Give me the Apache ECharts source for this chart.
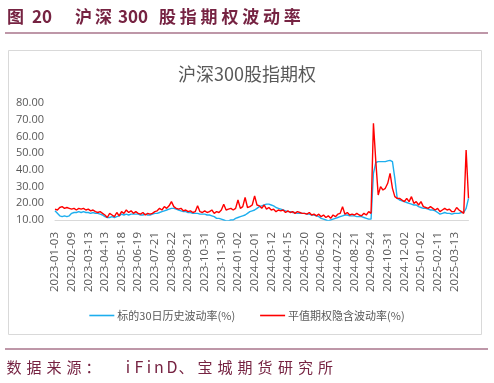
<!DOCTYPE html>
<html><head><meta charset="utf-8">
<script src="https://cdn.jsdelivr.net/npm/echarts@6/dist/echarts.min.js"></script>
<style>html,body{margin:0;padding:0;background:#fff}#c{width:494px;height:383px}</style>
</head><body><div id="c"></div>
<script>
const labelDates = ['2023-01-03','2023-02-09','2023-03-13','2023-04-13','2023-05-18','2023-06-19','2023-07-21','2023-08-22','2023-09-21','2023-10-31','2023-11-30','2024-01-02','2024-02-01','2024-03-12','2024-04-15','2024-05-20','2024-06-20','2024-07-22','2024-08-21','2024-09-24','2024-10-31','2024-12-02','2025-01-02','2025-02-11','2025-03-13'];
const stepsPerLabel = 7;
const trailingPoints = 6;
const histVol = [
15.5,14,12.5,12,12.5,12,12.5,
14,14.5,14.5,15,14.5,15,14.5,
14.5,14,14.5,14,14,13.5,13,
12,11.5,11.5,12,11.5,12,12.5,
13.5,13,13.5,13,13.5,13.5,13.5,
13.5,13,13,13.5,13,13,13.5,
14,14,14.5,15,15.5,16,16.5,
17,17,16.5,16,15.5,15,15,
14.5,14.5,14,14,14,13.5,13.5,
13.5,13,13,12.5,12,11,11,
10.5,10,9.5,9.5,10,10,11,
11.5,12,12.5,13,14,15,15.5,
16,17,18,18.5,19,19.5,19.5,
19,18.5,17.5,17,16.5,16,15.5,
15,15,14.5,14.5,14,14,14,
14,13.5,13.5,13,13,12.5,12,
11,10.5,10,9.5,10,10.5,11,
11.5,12,12.5,13,13,12.5,12.5,
12.5,12,12,12,11.5,11,10.5,
10.5,38,44.5,45,45,45,45,
45.5,45.8,45,35,23,22,21.5,
21,20.5,20,19.5,19,19,18,
17.5,17,17,16.5,16,16,15.5,
14.5,13.5,14,14.5,14,14,13.5,
14,14,14,14.5,14.5,17,23
];
const impliedVol = [
16.5,16,17.5,18,17,17.5,17,
16.5,17,16,17,16.5,17,16,
16.5,15.5,16,15,14.5,15,14,
13,11.5,14,13,12,14.5,12.5,
15,14,16,14.5,15.5,14,15,
14,13.5,14.5,13,14,13.5,14,
15,15.5,17,16,18,17,18.5,
21,18,17,16.5,17,15.5,16,
15,15.5,14.5,15,18.5,15,14.5,
15.5,14.5,15,16,14,15,14.5,
16,19.5,16,16.5,17,16,17,
22,17,18,23.5,17.5,18,19,
24.5,19,18.5,17,19,16.5,17.5,
16,16.5,15,16,15.5,16,14.5,
15.5,14.5,15,14,15,14.5,14,
14,13.5,14.5,13,13.5,12.5,13.5,
12,13,11.5,12.5,11,13,12,
13.5,14,18,13.5,14.5,13,13.5,
13,14,13,12.5,14,13,15,
14,68,45,25,30,28,29,
32,38,29,24,23,23,22,
21,23,21,24,20,21,19,
21,18,17.5,17,18,17,16,
17,15,16,17,16,16.5,15,
15,17.5,16,15,14,52,23
];
const yTicks = [10,20,30,40,50,60,70,80];
const chartTitle = '沪深300股指期权';
const seriesNames = ['标的30日历史波动率(%)','平值期权隐含波动率(%)'];

// categories: label dates with intermediate (unlabelled) sample points
const categories = [];
labelDates.forEach((d, k) => {
  categories.push(d);
  const n = k < labelDates.length - 1 ? stepsPerLabel - 1 : trailingPoints;
  for (let j = 1; j <= n; j++) categories.push(d + '#' + j);
});

const maroon = '#762342';
const lineCol = '#A9748B';
const gfx = [];
gfx.push({type:'rect', shape:{x:8.5,y:50.5,width:473,height:284}, style:{fill:'#fff',stroke:'#D9D9D9',lineWidth:1}, z:-10});
gfx.push({type:'line', shape:{x1:5,y1:33,x2:488,y2:33}, style:{stroke:lineCol,lineWidth:1.5}});
gfx.push({type:'line', shape:{x1:5,y1:349,x2:488,y2:349}, style:{stroke:lineCol,lineWidth:1.5}});
function putChars(chars, xs, y, size, weight){
  chars.forEach((ch, i) => gfx.push({type:'text', x:xs[i], y:y, style:{text:ch, fill:maroon, font: weight+' '+size+'px "Noto Sans CJK SC", sans-serif', textAlign:'center', textVerticalAlign:'middle'}}));
}
const head1 = ['图','20','沪','深','300'];
putChars(head1, [15.5,42,83.5,103.5,133], 17, 17, 'bold');
const head2 = '股指期权波动率'.split('');
putChars(head2, head2.map((c,i)=>167.5+i*20.8), 17, 17, 'bold');
const foot1 = '数据来源：'.split('');
putChars(foot1, [14,34,54,74,93], 367, 15, 'normal');
const foot2 = 'iFinD'.split('');
putChars(foot2, [128,139,149,159,172], 367, 16, 'normal');
const foot3 = '、宝城期货研究所'.split('');
putChars(foot3, [186,205,225,245,265,285.5,305.5,325.5], 367, 15, 'normal');

const chart = echarts.init(document.getElementById('c'), null, {renderer:'canvas'});
chart.setOption({
  animation:false,
  backgroundColor:'#fff',
  graphic:{elements:gfx},
  title:{text:chartTitle, left:'center', top:60, textStyle:{fontSize:18, fontWeight:'normal', color:'#595959', fontFamily:'"Noto Sans CJK SC", sans-serif'}},
  legend:{bottom:57, left:'center', icon:'rect', itemWidth:25, itemHeight:1.6, itemGap:25,
    textStyle:{fontSize:11, color:'#595959', fontFamily:'"Noto Sans CJK SC", sans-serif', padding:[0,0,0,-2]},
    data:seriesNames},
  grid:{left:55, right:25.5, top:103.3, bottom:163, containLabel:false},
  xAxis:{type:'category', data:categories, boundaryGap:false,
    axisLine:{lineStyle:{color:'#D9D9D9', width:1}}, axisTick:{show:false},
    axisLabel:{interval:stepsPerLabel-1, rotate:90, margin:12, fontSize:11.5, color:'#595959', fontFamily:'"Open Sans", sans-serif'},
    splitLine:{show:false}},
  yAxis:{type:'value', min:yTicks[0], max:yTicks[yTicks.length-1], interval:10,
    axisLine:{show:false}, axisTick:{show:false}, splitLine:{show:false},
    axisLabel:{margin:11, fontSize:11, color:'#595959', fontFamily:'"Open Sans", sans-serif', formatter:v=>v.toFixed(2)}},
  series:[
    {name:seriesNames[0], type:'line', data:histVol, symbol:'none', lineStyle:{color:'#1DAEEE', width:1.4}, itemStyle:{color:'#1DAEEE'}, z:2},
    {name:seriesNames[1], type:'line', data:impliedVol, symbol:'none', lineStyle:{color:'#FF0000', width:1.4}, itemStyle:{color:'#FF0000'}, z:3}
  ]
});
</script></body></html>
